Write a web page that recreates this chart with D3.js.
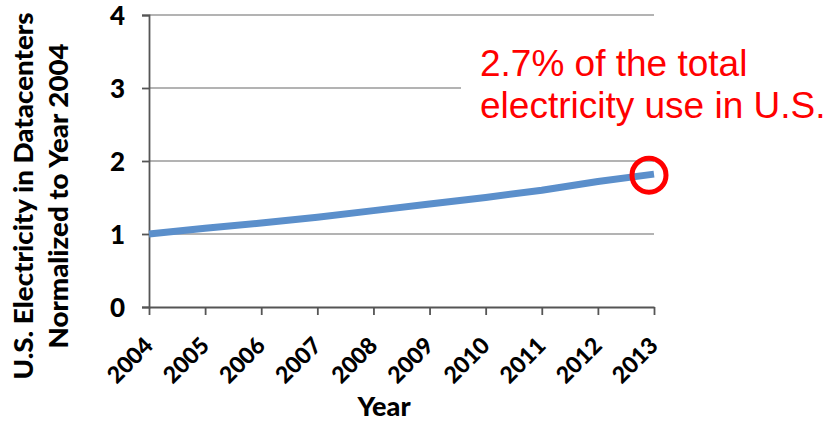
<!DOCTYPE html>
<html>
<head>
<meta charset="utf-8">
<script src="https://cdn.jsdelivr.net/npm/d3@7"></script>
<style>
  html, body { margin: 0; padding: 0; background: #fff; }
  svg { display: block; }
</style>
</head>
<body>
<svg id="chart" width="828" height="423"></svg>
<script>
const years = [2004, 2005, 2006, 2007, 2008, 2009, 2010, 2011, 2012, 2013];
const values = [1.00, 1.08, 1.15, 1.23, 1.32, 1.41, 1.50, 1.60, 1.72, 1.82];
const yTicks = [0, 1, 2, 3, 4];
const yTitleLines = ["U.S. Electricity in Datacenters", "Normalized to Year 2004"];
const xTitle = "Year";
const noteLines = ["2.7% of the total", "electricity use in U.S."];

const svg = d3.select("#chart");
const boldFont = "Lato, 'Liberation Sans', Arial, sans-serif";

const x = d3.scalePoint().domain(years).range([149, 654]);
const y = d3.scaleLinear().domain([0, 4]).range([307, 15]);

// gridlines
svg.append("g")
  .selectAll("line")
  .data(yTicks.filter(d => d > 0))
  .join("line")
  .attr("x1", 149).attr("x2", 654)
  .attr("y1", d => y(d)).attr("y2", d => y(d))
  .attr("stroke", "#9a9a9a").attr("stroke-width", 1.6);

// y axis
const yAxis = svg.append("g")
  .attr("transform", "translate(149,0)")
  .call(d3.axisLeft(y).tickValues(yTicks).tickSize(7).tickPadding(17).tickFormat(d3.format("d")));
yAxis.select(".domain").attr("stroke", "#555").attr("stroke-width", 1.8);
yAxis.selectAll(".tick line").attr("stroke", "#555").attr("stroke-width", 1.8);
yAxis.selectAll(".tick text")
  .attr("font-family", boldFont).attr("font-weight", 900).attr("font-size", 26)
  .attr("fill", "#000").attr("dy", "0.36em");

// x axis
const xAxis = svg.append("g")
  .attr("transform", "translate(0,307)")
  .call(d3.axisBottom(x).tickSize(8).tickSizeOuter(0));
xAxis.select(".domain").attr("stroke", "#555").attr("stroke-width", 1.8);
xAxis.selectAll(".tick line").attr("stroke", "#555").attr("stroke-width", 1.8);
xAxis.selectAll(".tick text")
  .attr("font-family", boldFont).attr("font-weight", 900).attr("font-size", 23)
  .attr("fill", "#000")
  .attr("text-anchor", "end")
  .attr("y", 0).attr("dy", 0)
  .attr("transform", "translate(5,40) rotate(-45)");

// line
const line = d3.line()
  .x((d, i) => x(years[i]))
  .y(d => y(d));
svg.append("path")
  .datum(values)
  .attr("d", line)
  .attr("fill", "none")
  .attr("stroke", "#5b8fcb")
  .attr("stroke-width", 7)
  .attr("stroke-linejoin", "round");

// annotation box
svg.append("rect")
  .attr("x", 461).attr("y", 32).attr("width", 367).attr("height", 100)
  .attr("fill", "#fff");
svg.append("g")
  .selectAll("text")
  .data(noteLines)
  .join("text")
  .attr("x", 480)
  .attr("y", (d, i) => 76 + i * 42)
  .attr("font-family", "'Liberation Sans', Arial, sans-serif")
  .attr("font-size", 37)
  .attr("fill", "#ff0000")
  .text(d => d);

// circle highlight
const last = years.length - 1;
svg.append("circle")
  .attr("cx", x(years[last]) - 5)
  .attr("cy", y(values[last]) + 1)
  .attr("r", 17)
  .attr("fill", "none")
  .attr("stroke", "#ff0000")
  .attr("stroke-width", 5);

// y title
const titleLens = [367, 305];
svg.append("g")
  .selectAll("text")
  .data(yTitleLines)
  .join("text")
  .attr("transform", (d, i) => `translate(${33 + i * 35},196) rotate(-90)`)
  .attr("text-anchor", "middle")
  .attr("font-family", boldFont).attr("font-weight", 900).attr("font-size", 26)
  .attr("textLength", (d, i) => titleLens[i])
  .attr("lengthAdjust", "spacingAndGlyphs")
  .attr("fill", "#000")
  .text(d => d);

// x title
svg.append("text")
  .attr("x", 384).attr("y", 416)
  .attr("text-anchor", "middle")
  .attr("font-family", boldFont).attr("font-weight", 900).attr("font-size", 27)
  .attr("fill", "#000")
  .text(xTitle);
</script>
</body>
</html>
